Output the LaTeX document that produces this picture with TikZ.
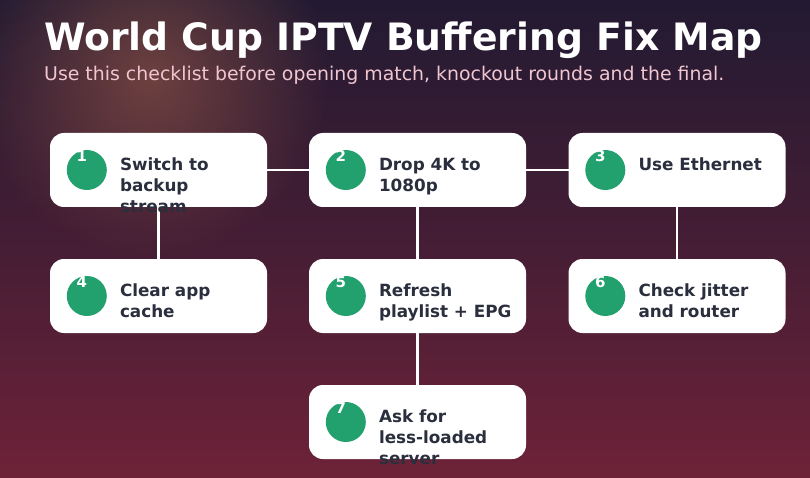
\documentclass[tikz,border=0pt]{standalone}
\usepackage{fontspec}
\setmainfont{DejaVu Sans}
\usetikzlibrary{positioning, fadings}

\definecolor{bgtop}{HTML}{221A32}
\definecolor{bgbot}{HTML}{6E2238}
\definecolor{glow}{HTML}{9A5A48}
\definecolor{fixgreen}{HTML}{22A06E}
\definecolor{inkdark}{HTML}{2A2E3D}
\definecolor{subpink}{HTML}{F0C6D0}

\tikzfading[name=glowfade, inner color=transparent!0, outer color=transparent!100]

\tikzset{
  fixbox/.style={draw=none, fill=white, rounded corners=14pt,
    minimum width=217pt, minimum height=74pt, inner sep=0pt},
  fixdot/.style={circle, fill=fixgreen, minimum size=40pt, inner sep=0pt},
  fixnum/.style={text=white, font=\bfseries\fontsize{15}{15}\selectfont, inner sep=0pt},
  fixtext/.style={anchor=north west, align=left, text=inkdark, inner sep=0pt,
    font=\bfseries\fontsize{16.8}{21}\selectfont},
  link/.style={draw=white, line width=2.5pt}
}

% one checklist step: name, position, number, text
\newcommand{\fixstep}[4]{%
  \node[fixbox] (#1) at #2 {};
  \node[fixdot] (#1dot) at ([xshift=37pt]#1.west) {};
  \node[fixnum] (#1num) at ([xshift=-5pt, yshift=14pt]#1dot.center) {#3};
  \node[fixtext] (#1txt) at ([xshift=70pt, yshift=-25pt]#1.north west) {#4};
}

\begin{document}
\begin{tikzpicture}[x=1pt, y=1pt]
  \useasboundingbox (0,0) rectangle (810,477);
  \shade[top color=bgtop, bottom color=bgbot, middle color=bgtop!55!bgbot] (0,0) rectangle (810,477);
  \fill[glow, path fading=glowfade, fill opacity=0.6] (150,400) circle (180);

  \node[anchor=base west, text=white, inner sep=0pt,
    font=\bfseries\fontsize{37.7}{38}\selectfont] (title) at (44,426) {World Cup IPTV Buffering Fix Map};
  \node[anchor=base west, text=subpink, inner sep=0pt,
    font=\fontsize{18.9}{19}\selectfont] (subtitle) at (44,396) {Use this checklist before opening match, knockout rounds and the final.};

  % connectors first, boxes on top
  \coordinate (c1) at (158.5,307);
  \coordinate (c2) at (417.5,307);
  \coordinate (c3) at (677,307);
  \coordinate (c4) at (158.5,181);
  \coordinate (c5) at (417.5,181);
  \coordinate (c6) at (677,181);
  \coordinate (c7) at (417.5,55);
  \draw[link] (c1) -- (c2) -- (c3);
  \draw[link] (c1) -- (c4);
  \draw[link] (c2) -- (c5) -- (c7);
  \draw[link] (c3) -- (c6);

  \fixstep{s1}{(c1)}{1}{Switch to\\backup\\stream}
  \fixstep{s2}{(c2)}{2}{Drop 4K to\\1080p}
  \fixstep{s3}{(c3)}{3}{Use Ethernet}
  \fixstep{s4}{(c4)}{4}{Clear app\\cache}
  \fixstep{s5}{(c5)}{5}{Refresh\\playlist + EPG}
  \fixstep{s6}{(c6)}{6}{Check jitter\\and router}
  \fixstep{s7}{(c7)}{7}{Ask for\\less-loaded\\server}
\end{tikzpicture}
\end{document}
